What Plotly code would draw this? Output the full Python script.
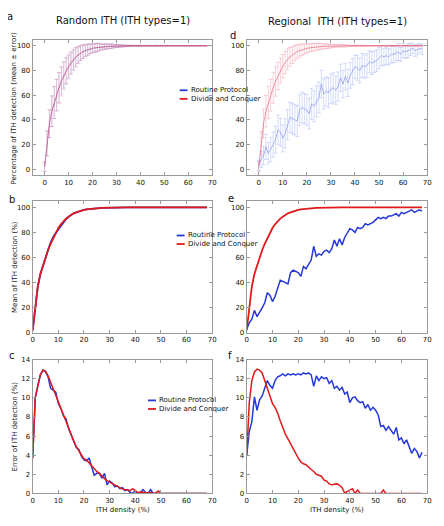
import plotly.graph_objects as go

PAGE_W, PAGE_H = 444, 526
OFF = 8  # default page margin around the figure
W, H = PAGE_W - OFF, PAGE_H - OFF
FONT = "DejaVu Sans"

# ---------------- data ----------------
ith_density = list(range(69))

# Random ITH: mean detection (%)
rand_mean_routine = [2, 21, 37, 47, 54, 60, 66, 72, 76.5, 79.5, 82.5, 85.5, 88, 90.5, 92.5, 94, 95.2, 96, 96.8, 97.4,
                     97.9, 98.3, 98.6, 98.9, 99.1, 99.3, 99.4, 99.5, 99.6, 99.7, 99.75, 99.8, 99.85, 99.9, 99.9, 99.92,
                     99.94, 99.95, 99.96, 99.97, 99.98, 99.98, 99.99, 99.99, 99.99, 100, 100, 100, 100, 100,
                     100, 100, 100, 100, 100, 100, 100, 100, 100, 100, 100, 100, 100, 100, 100, 100, 100, 100, 100]
rand_mean_dc = [2, 21, 37, 47, 54, 60, 66, 71, 75.5, 80, 83.5, 86.5, 89, 91, 92.5, 94, 95.2, 96, 96.8, 97.4,
                97.9, 98.3, 98.6, 98.9, 99.1, 99.3, 99.4, 99.5, 99.6, 99.7, 99.75, 99.8, 99.85, 99.9, 99.9, 99.92,
                99.94, 99.95, 99.96, 99.97, 99.98, 99.98, 99.99, 99.99, 99.99, 100, 100, 100, 100, 100,
                100, 100, 100, 100, 100, 100, 100, 100, 100, 100, 100, 100, 100, 100, 100, 100, 100, 100, 100]

# Random ITH: error of detection (%)
rand_err_routine = [3.7, 10.0, 11.3, 12.4, 12.9, 12.7, 12.2, 11.0, 10.8, 10.6, 9.4, 8.9, 8.1, 7.8, 6.8, 6.1, 5.6, 4.8,
                    4.6, 3.9, 3.5, 3.4, 3.7, 2.7, 1.9, 2.1, 2.1, 1.6, 2.1, 0.9, 1.3, 1.1, 0.7, 0.8, 0.5, 0.6, 0.3, 0.4,
                    0.1, 0.0, 0.3, 0.0, 0.1, 0.4, 0.1, 0.0, 0.4, 0.0, 0, 0, 0, 0, 0, 0, 0, 0, 0, 0, 0, 0, 0, 0, 0, 0,
                    0, 0, 0, 0, 0]
rand_err_dc = [3.7, 10.0, 11.2, 12.4, 12.9, 12.8, 12.3, 11.6, 10.9, 10.4, 9.6, 8.8, 8.2, 7.5, 6.7, 6.0, 5.5, 4.9,
               4.5, 4.0, 3.6, 3.5, 3.2, 2.8, 2.5, 2.3, 2.1, 1.8, 1.55, 1.35, 1.2, 1.0, 0.85, 0.7, 0.6, 0.45, 0.4, 0.35,
               0.3, 0.5, 0.3, 0.1, 0.15, 0.1, 0.05, 0.05, 0.1, 0.0, 0.05, 0.25, 0, 0, 0, 0, 0, 0, 0, 0, 0, 0, 0, 0,
               0, 0, 0, 0, 0, 0, 0]

# Regional ITH: mean detection (%)
reg_mean_routine = [3, 8, 11, 18, 13, 16, 20, 24, 32, 30, 25, 29, 36, 42, 41, 40, 39, 48, 50, 49, 48, 45, 53, 51,
                    55, 58, 69, 61, 63, 62, 65, 66, 64, 67, 74, 69, 75, 70, 76, 79, 83, 82, 80, 84, 83, 84, 87, 86,
                    87, 88, 90, 92, 91, 92, 91, 93, 93, 94, 95, 93, 96, 95, 96, 97, 98, 96, 97, 98, 97]
reg_mean_dc = [2, 21, 37, 47, 54, 60, 66, 71, 75.5, 80, 83.5, 86.5, 89, 91, 92.5, 94, 95.2, 96, 96.8, 97.4,
               97.9, 98.3, 98.6, 98.9, 99.1, 99.3, 99.4, 99.5, 99.6, 99.7, 99.75, 99.8, 99.85, 99.9, 99.9, 99.92,
               99.94, 99.95, 99.96, 99.97, 99.98, 99.98, 99.99, 99.99, 99.99, 100, 100, 100, 100, 100,
               100, 100, 100, 100, 100, 100, 100, 100, 100, 100, 100, 100, 100, 100, 100, 100, 100, 100, 100]

# Regional ITH: error of detection (%)
reg_err_routine = [4.0, 6.5, 7.5, 10.1, 8.7, 9.8, 10.2, 11.0, 11.8, 11.3, 11.0, 11.8, 12.2, 12.3, 12.5, 12.3, 12.5,
                   12.4, 12.5, 12.4, 12.5, 12.4, 12.6, 12.5, 12.6, 12.4, 11.2, 12.3, 11.8, 12.2, 12.0, 12.1, 11.5,
                   11.8, 11.0, 11.2, 10.8, 11.1, 10.4, 10.6, 9.5, 10.0, 10.1, 9.7, 9.5, 9.6, 8.9, 9.3, 8.7, 9.0, 8.7,
                   8.2, 7.0, 7.1, 6.6, 7.0, 6.6, 6.2, 6.9, 5.6, 5.8, 5.2, 5.6, 4.8, 4.2, 4.7, 4.4, 3.7, 4.3]
reg_err_dc = [4.0, 9.5, 11.8, 12.7, 13.0, 12.9, 12.6, 11.9, 11.0, 10.2, 9.4, 9.0, 8.4, 7.6, 6.8, 6.2, 5.7, 5.2, 4.6,
              4.1, 3.7, 3.3, 3.1, 3.0, 2.7, 2.5, 2.3, 2.0, 1.9, 1.8, 1.4, 1.3, 1.0, 0.9, 0.95, 1.0, 0.85, 0.6, 0.05,
              0.2, 0.35, 0.5, 0.0, 0.35, 0.0, 0, 0, 0, 0, 0, 0, 0, 0.0, 0.35, 0, 0, 0, 0, 0, 0, 0, 0, 0, 0, 0, 0,
              0, 0, 0]

series_names = ["Routine Protocol", "Divide and Conquer"]
col_titles = ["Random ITH (ITH types=1)", "Regional  ITH (ITH types=1)"]
row_ytitles = ["Percentage of ITH detection (mean \u00b1 error)", "Mean of ITH detection (%)",
               "Error of ITH detection (%)"]
x_title = "ITH density (%)"
panel_letters = ["a", "d", "b", "e", "c", "f"]
x_ticks = list(range(0, 71, 10))
pct_ticks = list(range(0, 101, 20))
err_ticks = list(range(0, 15, 2))

BLUE = "#2438d8"
RED = "#e01a1a"
BLUE_A = "rgba(80,100,230,0.45)"
RED_A = "rgba(225,50,80,0.5)"
BLUE_BAR = "rgba(110,130,235,0.35)"
RED_BAR = "rgba(235,90,115,0.35)"

# ---------------- layout helpers (page pixel -> paper) ----------------
def px_x(p):
    return (p - OFF) / W

def px_y(p):
    return 1 - (p - OFF) / H

LEFT = (31, 213)
RIGHT = (248, 431)
ROWS = [(36, 174), (200, 334), (361, 497)]

fig = go.Figure()

axis_specs = [
    # (axis index, col, row, xrange, yrange, yticks, hidden tick labels)
    (1, LEFT, 0, [-5, 70], [-5, 105], pct_ticks, []),
    (2, RIGHT, 0, [-5, 70], [-5, 105], pct_ticks, [60]),
    (3, LEFT, 1, [0, 70], [0, 105], pct_ticks, []),
    (4, RIGHT, 1, [0, 70], [0, 105], pct_ticks, [80]),
    (5, LEFT, 2, [0, 70], [0, 14], err_ticks, []),
    (6, RIGHT, 2, [0, 70], [0, 14], err_ticks, []),
]

tickfont = dict(family=FONT, size=7, color="#111")
for idx, col, row, xr, yr, yt, hidden in axis_specs:
    top, bot = ROWS[row]
    sx = "" if idx == 1 else str(idx)
    common = dict(showline=True, mirror="ticks", linecolor="#9a9a9a", linewidth=1, ticks="inside",
                  ticklen=3, tickcolor="#9a9a9a", showgrid=False, zeroline=False, tickfont=tickfont,
                  ticklabeloverflow="allow")
    fig.layout["xaxis" + sx] = dict(domain=[px_x(col[0]), px_x(col[1])], range=xr, anchor="y" + sx,
                                    tickvals=x_ticks, ticktext=[str(v) for v in x_ticks], **common)
    fig.layout["yaxis" + sx] = dict(domain=[px_y(bot), px_y(top)], range=yr, anchor="x" + sx,
                                    tickvals=yt, ticktext=["" if v in hidden else str(v) for v in yt],
                                    **common)

def errtrace(xa, ya, mean, err, line_col, bar_col, name):
    fig.add_trace(go.Scatter(x=ith_density, y=mean, mode="lines", name=name, showlegend=False,
                             line=dict(color=line_col, width=1),
                             error_y=dict(type="data", array=err, visible=True, color=bar_col,
                                          thickness=0.8, width=2),
                             xaxis=xa, yaxis=ya))

def linetrace(xa, ya, y, col, w, name):
    fig.add_trace(go.Scatter(x=ith_density, y=y, mode="lines", name=name, showlegend=False,
                             line=dict(color=col, width=w), xaxis=xa, yaxis=ya))

# a: random mean +- error
errtrace("x", "y", rand_mean_routine, rand_err_routine, BLUE_A, BLUE_BAR, series_names[0])
errtrace("x", "y", rand_mean_dc, rand_err_dc, RED_A, RED_BAR, series_names[1])
# d: regional mean +- error
errtrace("x2", "y2", reg_mean_routine, reg_err_routine, BLUE_A, BLUE_BAR, series_names[0])
errtrace("x2", "y2", reg_mean_dc, reg_err_dc, RED_A, RED_BAR, series_names[1])
# b / e: means
linetrace("x3", "y3", rand_mean_routine, BLUE, 1.8, series_names[0])
linetrace("x3", "y3", rand_mean_dc, RED, 1.8, series_names[1])
linetrace("x4", "y4", reg_mean_routine, BLUE, 1.5, series_names[0])
linetrace("x4", "y4", reg_mean_dc, RED, 1.8, series_names[1])
# c / f: errors
linetrace("x5", "y5", rand_err_routine, BLUE, 1.5, series_names[0])
linetrace("x5", "y5", rand_err_dc, RED, 1.5, series_names[1])
linetrace("x6", "y6", reg_err_routine, BLUE, 1.5, series_names[0])
linetrace("x6", "y6", reg_err_dc, RED, 1.5, series_names[1])

annotations = []
shapes = []

def ann(text, xp, yp, size, xanchor="center", yanchor="middle", angle=0):
    annotations.append(dict(text=text, x=px_x(xp), y=px_y(yp), xref="paper", yref="paper",
                            showarrow=False, xanchor=xanchor, yanchor=yanchor, textangle=angle,
                            font=dict(family=FONT, size=size, color="#111")))

# column titles
ann(col_titles[0], 123, 17, 10)
ann(col_titles[1], 340, 18, 10)
# panel letters
for letter, (xp, yp) in zip(panel_letters, [(8, 13), (234, 32), (10, 198), (232, 197), (10, 357), (231, 357)]):
    ann(letter, xp, yp, 10)
# y titles
for t, (xp, yp) in zip(row_ytitles, [(12, 105), (13, 267), (14, 429)]):
    ann(t, xp, yp, 7, angle=-90)
# x titles
ann(x_title, 123, 514, 7)
ann(x_title, 340, 514, 7)

# legends (one per left panel)
for (lx, ly) in [(180, 87.5), (177, 235), (148, 402.5)]:
    for i, (nm, c) in enumerate(zip(series_names, [BLUE, RED])):
        yy = ly + i * 8.7
        shapes.append(dict(type="line", xref="paper", yref="paper", x0=px_x(lx), x1=px_x(lx + 8),
                           y0=px_y(yy), y1=px_y(yy), line=dict(color=c, width=1.8)))
        ann(nm, lx + 9, yy, 7, xanchor="left")

fig.update_layout(width=W, height=H, margin=dict(l=0, r=0, t=0, b=0), paper_bgcolor="white",
                  plot_bgcolor="white", showlegend=False, annotations=annotations, shapes=shapes,
                  font=dict(family=FONT))

fig.write_html("out.html")
